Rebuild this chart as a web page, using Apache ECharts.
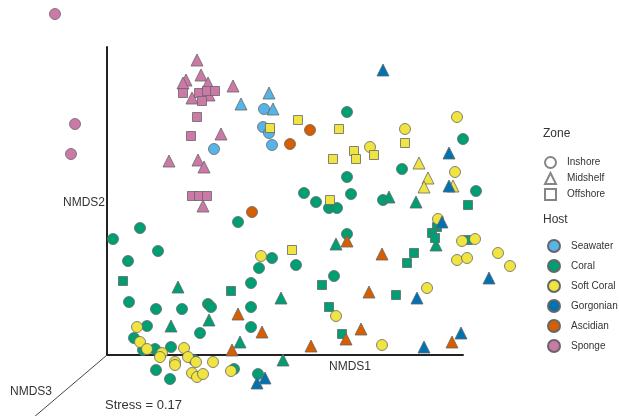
<!DOCTYPE html>
<html><head><meta charset="utf-8">
<script src="https://cdn.jsdelivr.net/npm/echarts@6/dist/echarts.min.js"></script>
<style>html,body{margin:0;padding:0;background:#fff}#c{width:619px;height:416px}</style>
</head><body><div id="c"></div>
<script>
// Projected NMDS coordinates (NMDS1 horizontal, NMDS2 vertical, NMDS3 projected obliquely)
const hosts = ['Seawater','Coral','Soft Coral','Gorgonian','Ascidian','Sponge'];
const hostColors = ['#56B4E9','#009E73','#F0E442','#0072B2','#D55E00','#CC79A7'];
const zones = ['Inshore','Midshelf','Offshore'];
const zoneSymbols = ['circle','triangle','rect'];

const seawaterInshore = [[1.57,2.46],[1.56,2.28],[1.62,2.22],[1.65,2.10],[1.07,2.06]];
const seawaterMidshelf = [[1.62,2.62],[1.34,2.51],[1.66,2.46]];
const seawaterOffshore = [];

const coralInshore = [[2.40,2.43],[3.56,2.16],[2.95,1.86],[2.40,1.78],[3.69,1.64],[1.97,1.62],[2.09,1.53],[2.44,1.61],
  [2.22,1.47],[2.30,1.47],[2.76,1.55],[1.31,1.33],[2.40,1.21],[2.27,0.79],[0.33,1.27],[0.06,1.16],[0.51,1.04],
  [0.21,0.94],[0.22,0.53],[0.49,0.46],[0.75,0.46],[1.01,0.51],[1.04,0.48],[0.40,0.29],[0.93,0.22],[0.27,0.17],
  [0.48,0.06],[0.64,0.08],[0.36,0.05],[0.87,-0.05],[0.49,-0.15],[0.63,-0.24],[1.27,-0.14],[1.51,-0.19],
  [1.44,0.28],[1.44,0.48],[1.44,0.72],[1.52,0.87],[1.65,0.97],[1.89,0.90]];
const coralMidshelf = [[2.82,1.58],[3.09,1.53],[2.29,1.11],[0.71,0.68],[1.74,0.57],[1.02,0.35],[0.64,0.29],
  [1.33,0.13],[1.76,-0.05],[3.29,1.10]];
const coralOffshore = [[3.61,1.50],[3.30,1.28],[3.25,1.22],[3.28,1.17],[3.61,1.15],[3.07,1.02],[3.00,0.92],
  [2.15,0.70],[2.89,0.60],[2.22,0.48],[2.35,0.21],[0.16,0.74],[1.24,0.64]];

const softCoralInshore = [[2.98,2.26],[3.50,2.38],[2.63,2.08],[3.48,1.83],[3.31,1.36],[3.55,1.14],[3.68,1.16],
  [3.50,0.95],[3.60,0.97],[3.91,1.02],[4.03,0.89],[3.20,0.67],[2.29,0.39],[2.75,0.10],[1.54,0.99],
  [0.30,0.28],[0.33,0.13],[0.40,0.06],[0.55,0.02],[0.53,-0.02],[0.77,0.07],[0.81,-0.02],[0.68,-0.07],
  [0.68,-0.10],[0.89,-0.07],[1.06,-0.07],[0.85,-0.18],[0.90,-0.22],[0.96,-0.19],[1.24,-0.16]];
const softCoralMidshelf = [[3.12,1.92],[3.21,1.77],[3.17,1.68],[3.46,1.69]];
const softCoralOffshore = [[1.63,2.27],[1.91,2.35],[2.32,2.26],[2.98,2.12],[2.26,1.96],[2.47,2.04],[2.49,1.96],
  [2.67,2.00],[2.23,1.55],[1.85,1.05]];

const gorgonianInshore = [];
const gorgonianMidshelf = [[2.76,2.85],[3.42,2.02],[3.42,1.69],[3.35,1.33],[3.82,0.77],[3.10,0.57],[3.17,0.08],
  [3.54,0.22],[1.50,-0.28],[1.58,-0.23]];
const gorgonianOffshore = [];

const ascidianInshore = [[2.03,2.25],[1.83,2.11],[1.45,1.43]];
const ascidianMidshelf = [[2.40,1.14],[2.75,1.01],[2.62,0.63],[2.54,0.26],[2.39,0.16],[2.04,0.09],[3.45,0.13],
  [1.31,0.41],[1.55,0.23],[1.25,0.05]];
const ascidianOffshore = [];

const spongeInshore = [[-0.52,3.41],[-0.32,2.31],[-0.36,2.01]];
const spongeMidshelf = [[0.90,2.95],[0.79,2.75],[0.94,2.80],[1.01,2.72],[1.26,2.69],[0.85,2.57],[1.02,2.60],
  [0.76,2.72],[1.14,2.21],[0.62,1.94],[0.91,1.95],[0.97,1.88],[0.96,1.49]];
const spongeOffshore = [[0.76,2.62],[0.92,2.62],[1.00,2.64],[1.08,2.64],[0.95,2.54],[0.90,2.38],[0.84,2.19],
  [0.85,1.59],[0.92,1.59],[1.00,1.59]];

// oblique NMDS3 axis, from the origin outwards
const nmds3Axis = [[0,0],[-0.87,-0.74]];

const byHost = {
  'Seawater':[seawaterInshore,seawaterMidshelf,seawaterOffshore],
  'Coral':[coralInshore,coralMidshelf,coralOffshore],
  'Soft Coral':[softCoralInshore,softCoralMidshelf,softCoralOffshore],
  'Gorgonian':[gorgonianInshore,gorgonianMidshelf,gorgonianOffshore],
  'Ascidian':[ascidianInshore,ascidianMidshelf,ascidianOffshore],
  'Sponge':[spongeInshore,spongeMidshelf,spongeOffshore]
};
const sizes = {circle:11, triangle:12, rect:9};
const font = 'Liberation Sans, Arial, Helvetica, sans-serif';

const series = [];
hosts.forEach((h,i)=>{
  const data = [];
  byHost[h].forEach((arr,z)=>{
    arr.forEach(p=>data.push({value:p, symbol:zoneSymbols[z], symbolSize:sizes[zoneSymbols[z]]}));
  });
  series.push({type:'scatter', name:h, data, clip:false, symbol:'circle',
    itemStyle:{color:hostColors[i], borderColor:'#666', borderWidth:0.8, opacity:1},
    emphasis:{disabled:true}});
});
zones.forEach((z,i)=>{
  series.push({type:'scatter', name:z, data:[], symbol:zoneSymbols[i],
    itemStyle:{color:'#fff', borderColor:'#666', borderWidth:1}});
});

const legendText = {fontSize:10, color:'#333', fontFamily:font, overflow:'none', width:80, padding:[0,0,0,6]};
const chart = echarts.init(document.getElementById('c'));
chart.setOption({
  animation:false,
  textStyle:{fontFamily:font},
  grid:{left:107, right:156, top:47, bottom:61},
  xAxis:{type:'value', min:0, max:3.56,
    axisLine:{lineStyle:{color:'#222', width:2}}, axisTick:{show:false}, axisLabel:{show:false}, splitLine:{show:false}},
  yAxis:{type:'value', min:0, max:3.08,
    axisLine:{lineStyle:{color:'#222', width:2}}, axisTick:{show:false}, axisLabel:{show:false}, splitLine:{show:false}},
  legend:[
    {orient:'vertical', left:544, top:156, itemWidth:11, itemHeight:11, itemGap:3, selectedMode:false,
      padding:0, textStyle:legendText,
      data:[{name:'Inshore',icon:'circle'},{name:'Midshelf',icon:'triangle'},{name:'Offshore',icon:'rect'}]},
    {orient:'vertical', left:547, top:239, itemWidth:12, itemHeight:12, itemGap:6, selectedMode:false,
      padding:0, textStyle:legendText,
      data:hosts.map(h=>({name:h, icon:'circle'}))}
  ],
  series
});

const o = chart.convertToPixel({gridIndex:0}, nmds3Axis[0]);
const e = chart.convertToPixel({gridIndex:0}, nmds3Axis[1]);
chart.setOption({
  graphic:[
    {type:'line', silent:true, z:1, shape:{x1:o[0], y1:o[1], x2:e[0], y2:e[1]}, style:{stroke:'#444', lineWidth:1}},
    {type:'text', x:543, y:134, style:{text:'Zone', fontSize:12, fill:'#333', fontFamily:font, verticalAlign:'middle'}},
    {type:'text', x:543, y:220, style:{text:'Host', fontSize:12, fill:'#333', fontFamily:font, verticalAlign:'middle'}},
    {type:'text', x:105, y:203, style:{text:'NMDS2', fontSize:12, fill:'#333', fontFamily:font, align:'right', verticalAlign:'middle'}},
    {type:'text', x:350, y:367, style:{text:'NMDS1', fontSize:12, fill:'#333', fontFamily:font, align:'center', verticalAlign:'middle'}},
    {type:'text', x:10, y:392, style:{text:'NMDS3', fontSize:12, fill:'#333', fontFamily:font, verticalAlign:'middle'}},
    {type:'text', x:105, y:405, style:{text:'Stress = 0.17', fontSize:13, fill:'#333', fontFamily:font, verticalAlign:'middle'}}
  ]
});
</script></body></html>
